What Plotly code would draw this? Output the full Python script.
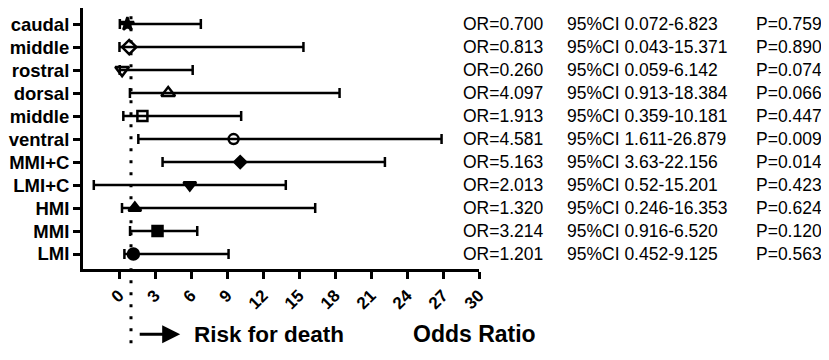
import plotly.graph_objects as go

# ---- data (top row first) ----
labels = ["caudal", "middle", "rostral", "dorsal", "middle", "ventral",
          "MMI+C", "LMI+C", "HMI", "MMI", "LMI"]
odds_plot = [0.70, 0.85, 0.26, 4.10, 1.95, 9.55, 10.1, 5.9, 1.32, 3.21, 1.20]
ci_low = [0.07, 0.04, 0.06, 0.91, 0.36, 1.61, 3.63, -2.1, 0.25, 0.92, 0.45]
ci_high = [6.82, 15.37, 6.14, 18.38, 10.18, 26.88, 22.16, 13.9, 16.35, 6.52, 9.13]
symbols = ["star", "diamond-open", "triangle-down-open", "triangle-up-open",
           "square-open", "circle-open", "diamond", "triangle-down",
           "triangle-up", "square", "circle"]
sizes = [10, 11, 12, 12, 10, 10, 9, 11, 11, 10, 11]
or_text = ["OR=0.700", "OR=0.813", "OR=0.260", "OR=4.097", "OR=1.913", "OR=4.581",
           "OR=5.163", "OR=2.013", "OR=1.320", "OR=3.214", "OR=1.201"]
ci_text = ["95%CI 0.072-6.823", "95%CI 0.043-15.371", "95%CI 0.059-6.142",
           "95%CI 0.913-18.384", "95%CI 0.359-10.181", "95%CI 1.611-26.879",
           "95%CI 3.63-22.156", "95%CI 0.52-15.201", "95%CI 0.246-16.353",
           "95%CI 0.916-6.520", "95%CI 0.452-9.125"]
p_text = ["P=0.759", "P=0.890", "P=0.074", "P=0.066", "P=0.447", "P=0.009",
          "P=0.014", "P=0.423", "P=0.624", "P=0.120", "P=0.563"]
x_ticks = list(range(0, 31, 3))

n = len(labels)
ypos = [n - 1 - i for i in range(n)]

FONT = "Liberation Sans, Arial, sans-serif"

fig = go.Figure()
fig.add_trace(go.Scatter(
    x=odds_plot, y=ypos, mode="markers",
    marker=dict(symbol=symbols, size=sizes, color="#000000", opacity=1,
                line=dict(color="#000000", width=2.5)),
    error_x=dict(type="data", symmetric=False,
                 array=[h - o for h, o in zip(ci_high, odds_plot)],
                 arrayminus=[o - l for o, l in zip(odds_plot, ci_low)],
                 color="#000000", thickness=2.5, width=5),
    showlegend=False, cliponaxis=False,
))

# reference line at OR = 1
fig.add_shape(type="line", xref="x", yref="paper", x0=1, x1=1, y0=-0.33, y1=1.0,
              line=dict(color="black", width=3, dash="3px,9px"), layer="below")

annotations = []
col_x = [0.9545, 1.2172, 1.6945]
for i in range(n):
    for cx, txt in zip(col_x, [or_text[i], ci_text[i], p_text[i]]):
        annotations.append(dict(x=cx, y=ypos[i], xref="paper", yref="y", text=txt,
                                showarrow=False, xanchor="left", yanchor="middle",
                                font=dict(family=FONT, size=17.5, color="black")))

# arrow + captions below axis
annotations.append(dict(x=5.1, y=-0.25, xref="x", yref="paper",
                        ax=-42, ay=0, axref="pixel", ayref="pixel",
                        text="", showarrow=True, arrowhead=2, arrowsize=1.2,
                        arrowwidth=3, arrowcolor="black"))
annotations.append(dict(x=6.1, y=-0.25, xref="x", yref="paper",
                        text="<b>Risk for death</b>", showarrow=False,
                        xanchor="left", yanchor="middle",
                        font=dict(family=FONT, size=22.5, color="black")))
annotations.append(dict(x=24.3, y=-0.25, xref="x", yref="paper",
                        text="<b>Odds Ratio</b>", showarrow=False,
                        xanchor="left", yanchor="middle",
                        font=dict(family=FONT, size=23, color="black")))

fig.update_layout(
    width=813, height=344,
    margin=dict(l=75, r=342, t=0, b=83, autoexpand=False),
    paper_bgcolor="white", plot_bgcolor="white",
    annotations=annotations,
    xaxis=dict(range=[-3, 30], tickvals=x_ticks,
               ticktext=["<b>%d</b>" % v for v in x_ticks],
               tickangle=-45, showgrid=False, zeroline=False,
               showline=True, linecolor="black", linewidth=3,
               ticks="outside", ticklen=7, tickwidth=2.5, tickcolor="black",
               tickfont=dict(family=FONT, size=17, color="black")),
    yaxis=dict(range=[-0.652, 10.7], tickvals=ypos,
               ticktext=["<b>%s</b>" % l for l in labels],
               showgrid=False, zeroline=False,
               showline=True, linecolor="black", linewidth=3,
               ticks="outside", ticklen=7, tickwidth=2.5, tickcolor="black",
               tickfont=dict(family=FONT, size=18.5, color="black")),
)

fig.write_html("out.html")
